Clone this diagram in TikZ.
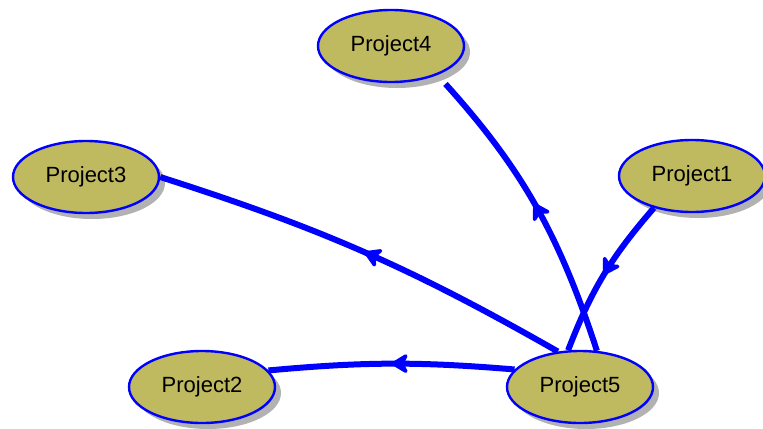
\documentclass[tikz,border=0pt]{standalone}
\usepackage{fontspec}
\setsansfont{Liberation Sans}
\usepackage{tikz}
\usetikzlibrary{arrows.meta,decorations.markings,shapes.geometric,shadows,bending}
\definecolor{projfill}{RGB}{191,185,96}
\tikzset{
	project/.style={ellipse, draw=blue, line width=1.2pt, fill=projfill,
		minimum width=73pt, minimum height=36pt, inner sep=0pt,
		font=\sffamily\fontsize{11}{13}\selectfont,
		drop shadow={shadow xshift=3pt, shadow yshift=-3pt, fill=black!30, opacity=1}},
	dep/.style={draw=blue, line width=3pt, postaction={decorate},
		decoration={markings, mark=at position 0.5 with {\arrow{Stealth[length=10pt,width=12pt,inset=3pt,round]}}}}
}
\begin{document}
\begin{tikzpicture}[x=0.5pt, y=-0.5pt]
	% page size
	\useasboundingbox (0,0) rectangle (763,428);
	% projects
	\node[project] (p4) at (391,46)  {Project4};
	\node[project] (p3) at (86,177)  {Project3};
	\node[project] (p1) at (692,176) {Project1};
	\node[project] (p2) at (202,387) {Project2};
	\node[project] (p5) at (580,387) {Project5};
	% dependencies
	\draw[dep] (p5.165) to[bend right=5] (p2.14);
	\draw[dep] (p5.122) to[bend right=6] (p3.east);
	\draw[dep, shorten >=6pt] (p5.65) to[bend right=12] (p4.-32);
	\draw[dep] (p1.-140) to[bend right=10] (p5.108);
\end{tikzpicture}
\end{document}
